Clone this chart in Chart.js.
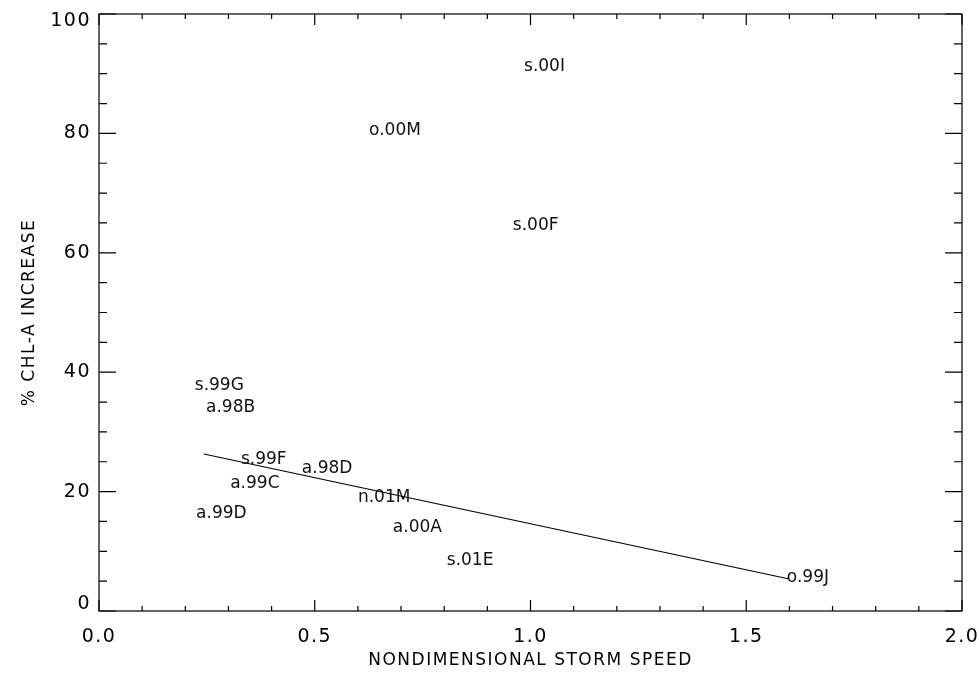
<!DOCTYPE html>
<html><head><meta charset="utf-8">
<script src="https://cdn.jsdelivr.net/npm/chart.js@4"></script>
<style>html,body{margin:0;padding:0;background:#fff}</style>
</head><body>
<canvas id="c" width="979" height="673" style="display:block;width:979px;height:673px"></canvas>
<script>
// ---- data ----
const stormNames  = ['s.00I','o.00M','s.00F','s.99G','a.98B','s.99F','a.98D','a.99C','n.01M','a.99D','a.00A','s.01E','o.99J'];
const stormSpeed  = [0.985, 0.626, 0.959, 0.222, 0.248, 0.329, 0.470, 0.304, 0.600, 0.225, 0.681, 0.806, 1.594];
const chlIncrease = [90.5, 79.7, 63.8, 37.0, 33.3, 24.6, 23.1, 20.6, 18.3, 15.6, 13.2, 7.7, 4.9];
const fitSpeed    = [0.243, 1.597];
const fitIncrease = [26.3, 5.4];
const xTickLabels = ['0.0','0.5','1.0','1.5','2.0'];
const yTickLabels = ['0','20','40','60','80','100'];
const xTitle = 'NONDIMENSIONAL STORM SPEED';
const yTitle = '% CHL-A INCREASE';

const FONT = 'DejaVu Sans';
const isMult = (v, m) => Math.abs(v / m - Math.round(v / m)) < 1e-6;

const framePlugin = {
  id: 'frame',
  beforeDraw(chart) {
    chart.ctx.letterSpacing = '1.5px';
  },
  afterDatasetsDraw(chart) {
    const ctx = chart.ctx;
    const meta = chart.getDatasetMeta(0);
    ctx.save();
    ctx.letterSpacing = '0px';
    ctx.fillStyle = '#111';
    ctx.font = '17px "' + FONT + '"';
    ctx.textAlign = 'left';
    ctx.textBaseline = 'alphabetic';
    meta.data.forEach((pt, i) => ctx.fillText(stormNames[i], pt.x, pt.y));
    ctx.restore();
  },
  afterDraw(chart) {
    const {ctx, chartArea: a, scales: {x, y}} = chart;
    ctx.save();
    ctx.strokeStyle = '#000';
    ctx.lineWidth = 1.2;
    ctx.strokeRect(a.left, a.top, a.right - a.left, a.bottom - a.top);
    ctx.beginPath();
    x.ticks.forEach(t => {
      const px = x.getPixelForValue(t.value);
      const len = isMult(t.value, 0.5) ? 11 : 5;
      ctx.moveTo(px, a.bottom); ctx.lineTo(px, a.bottom - len);
      ctx.moveTo(px, a.top); ctx.lineTo(px, a.top + len);
    });
    y.ticks.forEach(t => {
      const py = y.getPixelForValue(t.value);
      const len = isMult(t.value, 20) ? 17 : 8;
      ctx.moveTo(a.left, py); ctx.lineTo(a.left + len, py);
      ctx.moveTo(a.right, py); ctx.lineTo(a.right - len, py);
    });
    ctx.stroke();
    // end labels of the y axis are nudged inside the frame, as in the reference
    ctx.fillStyle = '#000';
    ctx.font = '19px "' + FONT + '"';
    ctx.textAlign = 'right';
    ctx.textBaseline = 'middle';
    ctx.fillText(yTickLabels[0], a.left - 8, y.getPixelForValue(0) - 6.5);
    ctx.fillText(yTickLabels[yTickLabels.length - 1], a.left - 8, y.getPixelForValue(100) + 7.5);
    ctx.restore();
  }
};

new Chart(document.getElementById('c'), {
  data: {
    datasets: [
      {
        type: 'scatter',
        data: stormSpeed.map((v, i) => ({x: v, y: chlIncrease[i]})),
        pointRadius: 0,
        pointHoverRadius: 0
      },
      {
        type: 'line',
        data: fitSpeed.map((v, i) => ({x: v, y: fitIncrease[i]})),
        borderColor: '#000',
        borderWidth: 1.2,
        pointRadius: 0,
        fill: false
      }
    ]
  },
  options: {
    responsive: false,
    animation: false,
    devicePixelRatio: 1,
    layout: {padding: {top: 14, right: 17, left: 0, bottom: 0}},
    plugins: {legend: {display: false}, tooltip: {enabled: false}},
    scales: {
      x: {
        type: 'linear', min: 0, max: 2,
        grid: {display: false, drawTicks: false},
        border: {display: false},
        ticks: {
          stepSize: 0.1, autoSkip: false, maxRotation: 0, padding: 15,
          color: '#000', font: {family: FONT, size: 19},
          callback: v => isMult(v, 0.5) ? xTickLabels[Math.round(v / 0.5)] : ''
        },
        title: {
          display: true, text: xTitle, color: '#000',
          font: {family: FONT, size: 17}, padding: {top: 0, bottom: 2}
        },
        afterFit(s) { s.height = 62; s.paddingRight = 0; s.paddingLeft = 0; }
      },
      y: {
        type: 'linear', min: 0, max: 100,
        grid: {display: false, drawTicks: false},
        border: {display: false},
        ticks: {
          stepSize: 5, autoSkip: false, padding: 8,
          color: c => (c.tick && (c.tick.value === 0 || c.tick.value === 100)) ? 'rgba(0,0,0,0)' : '#000',
          font: {family: FONT, size: 19},
          callback: v => isMult(v, 20) ? yTickLabels[Math.round(v / 20)] : ''
        },
        title: {
          display: true, text: yTitle, color: '#000',
          font: {family: FONT, size: 17}, padding: {top: 19, bottom: 0}
        },
        afterFit(s) { s.width = 99; s.paddingTop = 0; s.paddingBottom = 0; }
      }
    }
  },
  plugins: [framePlugin]
});
</script>
</body></html>
